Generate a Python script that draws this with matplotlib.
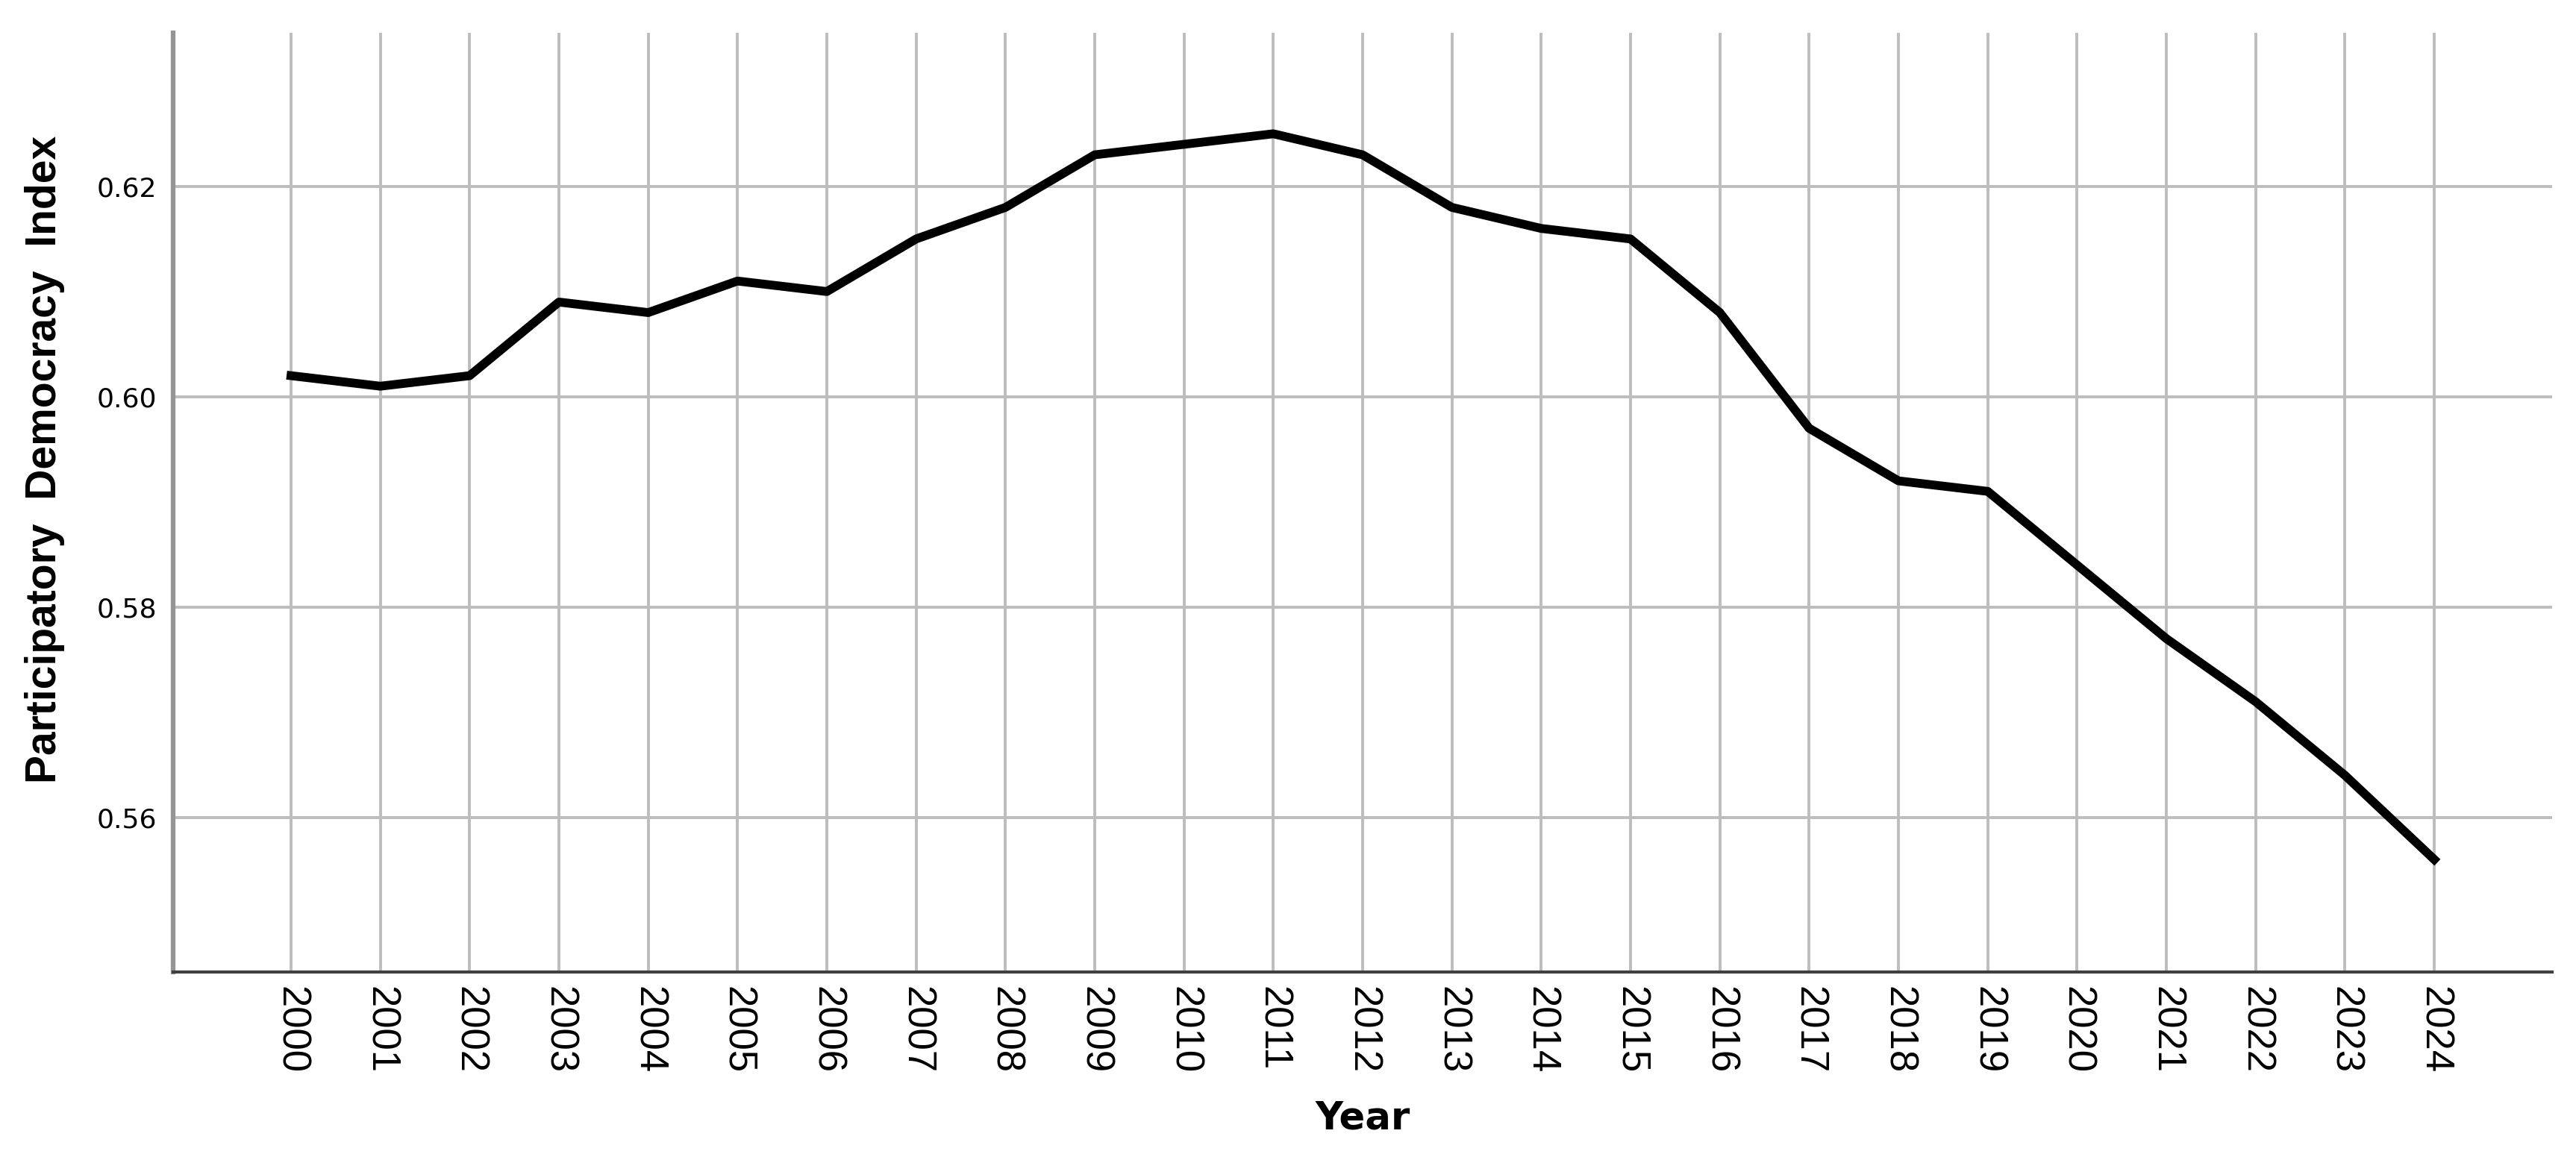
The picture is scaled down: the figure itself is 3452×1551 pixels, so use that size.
import matplotlib
matplotlib.use("Agg")
import matplotlib.pyplot as plt

# Participatory democracy index by year
years = list(range(2000, 2025))
index_values = [0.602, 0.601, 0.602, 0.609, 0.608, 0.611, 0.610, 0.615, 0.618, 0.623,
                0.624, 0.625, 0.623, 0.618, 0.616, 0.615, 0.608, 0.597, 0.592, 0.591,
                0.584, 0.577, 0.571, 0.564, 0.556]
y_ticks = [0.56, 0.58, 0.60, 0.62]

plt.rcParams['font.family'] = ['Liberation Sans', 'DejaVu Sans']

W, H = 3452, 1551
left, right, top, bottom = 232, 3420, 44, 1303

fig = plt.figure(figsize=(W / 100, H / 100), dpi=100)
ax = fig.add_axes([left / W, 1 - bottom / H, (right - left) / W, (bottom - top) / H])

ax.plot(years, index_values, color='black', linewidth=8.5, zorder=3)

ax.set_xlim(1998.68, 2025.32)
ax.set_ylim(0.5453, 0.6346)
ax.set_xticks(years)
ax.set_xticklabels([str(y) for y in years], rotation=270, fontsize=38)
ax.set_yticks(y_ticks)
ax.set_yticklabels(['%.2f' % v for v in y_ticks], fontsize=26, family=['DejaVu Sans'])
ax.tick_params(axis='both', length=0)
ax.tick_params(axis='x', pad=14)
ax.tick_params(axis='y', pad=16)

ax.grid(True, color='#bdbdbd', linewidth=2.8, zorder=0)
ax.set_axisbelow(True)

for side in ['top', 'right']:
    ax.spines[side].set_visible(False)
ax.spines['left'].set_color('#959595')
ax.spines['left'].set_linewidth(4.5)
ax.spines['bottom'].set_color('#404040')
ax.spines['bottom'].set_linewidth(3)

ax.set_xlabel('Year', fontsize=37, fontweight='bold', family=['DejaVu Sans'])
ax.set_ylabel('Participatory  Democracy  Index', fontsize=41, fontweight='bold')
ax.xaxis.set_label_coords(0.5, (bottom - 1500) / (bottom - top))
ax.yaxis.set_label_coords((60 - left) / (right - left), (bottom - 616) / (bottom - top))
ax.xaxis.label.set_verticalalignment('center')
ax.yaxis.label.set_verticalalignment('center')

fig.savefig('out.png', dpi=100, facecolor='white')
